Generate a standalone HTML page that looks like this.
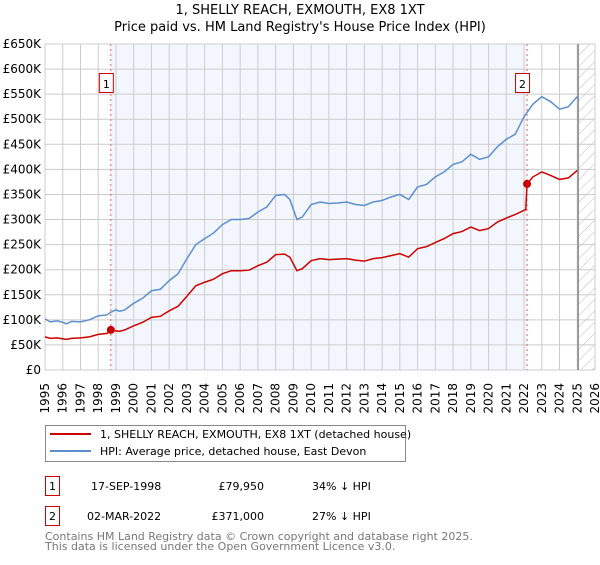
<!DOCTYPE html>
<html><head><meta charset="utf-8"><style>
body{margin:0;background:#fff;font-family:"Liberation Sans","DejaVu Sans",sans-serif}
svg text{font-family:"DejaVu Sans","Liberation Sans",sans-serif}
</style></head><body>
<svg id="chart" width="600" height="560" viewBox="0 0 600 560" xmlns="http://www.w3.org/2000/svg">
<defs><pattern id="hatch" width="8" height="8" patternUnits="userSpaceOnUse" patternTransform="rotate(45)"><line x1="0" y1="0" x2="0" y2="8" stroke="#bbb" stroke-width="1"/></pattern></defs>
<text x="300" y="14" text-anchor="middle" font-size="13">1, SHELLY REACH, EXMOUTH, EX8 1XT</text>
<text x="300" y="31" text-anchor="middle" font-size="13">Price paid vs. HM Land Registry's House Price Index (HPI)</text>
<g id="plot"></g>
<g>
<rect x="45.5" y="425.5" width="360" height="36" fill="#fff" stroke="#888"/>
<line x1="50" y1="434" x2="91" y2="434" stroke="#cc0000" stroke-width="2"/>
<text x="100" y="438" font-size="11">1, SHELLY REACH, EXMOUTH, EX8 1XT (detached house)</text>
<line x1="50" y1="451" x2="91" y2="451" stroke="#5b8fd0" stroke-width="2"/>
<text x="100" y="455" font-size="11">HPI: Average price, detached house, East Devon</text>
</g>
<g font-size="11">
<rect x="45.5" y="476.5" width="14" height="19" fill="#fff" stroke="#c00"/><text x="52.5" y="490" text-anchor="middle">1</text>
<text x="91" y="490">17-SEP-1998</text><text x="264" y="490" text-anchor="end">£79,950</text><text x="312" y="490">34% ↓ HPI</text>
<rect x="45.5" y="506.5" width="14" height="19" fill="#fff" stroke="#c00"/><text x="52.5" y="520" text-anchor="middle">2</text>
<text x="87" y="520">02-MAR-2022</text><text x="264" y="520" text-anchor="end">£371,000</text><text x="312" y="520">27% ↓ HPI</text>
</g>
<text x="45" y="540" font-size="11" fill="#777">Contains HM Land Registry data © Crown copyright and database right 2025.</text>
<text x="45" y="550" font-size="11" fill="#777">This data is licensed under the Open Government Licence v3.0.</text>
</svg>
<script>
const yTicks=[0,50,100,150,200,250,300,350,400,450,500,550,600,650];
const yTickLabels=["£0","£50K","£100K","£150K","£200K","£250K","£300K","£350K","£400K","£450K","£500K","£550K","£600K","£650K"];
const years=[1995,1996,1997,1998,1999,2000,2001,2002,2003,2004,2005,2006,2007,2008,2009,2010,2011,2012,2013,2014,2015,2016,2017,2018,2019,2020,2021,2022,2023,2024,2025,2026];
const hpiT=[1995,1995.3,1995.7,1996,1996.2,1996.5,1997,1997.5,1998,1998.5,1998.7,1999,1999.2,1999.5,2000,2000.5,2001,2001.5,2002,2002.5,2003,2003.5,2004,2004.5,2005,2005.5,2006,2006.5,2007,2007.5,2008,2008.5,2008.8,2009.2,2009.5,2010,2010.5,2011,2011.5,2012,2012.5,2013,2013.5,2014,2014.5,2015,2015.5,2016,2016.5,2017,2017.5,2018,2018.5,2019,2019.5,2020,2020.5,2021,2021.5,2022,2022.5,2023,2023.5,2024,2024.5,2025];
const hpiV=[102,96,98,95,92,97,96,100,108,110,115,120,117,120,133,143,158,161,178,192,222,250,262,273,290,300,300,302,315,325,348,350,340,300,305,330,335,332,333,335,330,328,335,338,345,350,340,365,370,385,395,410,415,430,420,425,445,460,470,505,530,545,535,520,525,545];
const ppT=[1995,1995.3,1995.7,1996,1996.2,1996.5,1997,1997.5,1998,1998.5,1998.71,1999,1999.2,1999.5,2000,2000.5,2001,2001.5,2002,2002.5,2003,2003.5,2004,2004.5,2005,2005.5,2006,2006.5,2007,2007.5,2008,2008.5,2008.8,2009.2,2009.5,2010,2010.5,2011,2011.5,2012,2012.5,2013,2013.5,2014,2014.5,2015,2015.5,2016,2016.5,2017,2017.5,2018,2018.5,2019,2019.5,2020,2020.5,2021,2021.5,2022.1,2022.17,2022.5,2023,2023.5,2024,2024.5,2025];
const ppV=[66,63,64,62,61,63,64,66,71,73,79.95,78,77,80,88,95,105,107,118,127,147,168,175,181,192,198,198,199,208,215,230,231,225,198,202,218,222,220,221,222,219,217,222,224,228,232,225,242,246,254,262,272,276,285,278,282,295,303,310,320,371,385,395,388,380,383,398];
const sales=[{t:1998.71,v:79.95,n:"1"},{t:2022.17,v:371,n:"2"}];
const X=t=>45+(t-1995)*(550/31), Y=v=>370-v*(326/650);
const NS="http://www.w3.org/2000/svg", g=document.getElementById('plot');
function el(tag,a,p){const e=document.createElementNS(NS,tag);for(const k in a)e.setAttribute(k,a[k]);(p||g).appendChild(e);return e;}
let r=el('rect',{x:X(sales[0].t),y:44,width:X(sales[1].t)-X(sales[0].t),height:326,fill:'#eef3fc',opacity:0.7});


r=el('rect',{x:X(2025.05),y:44,width:595-X(2025.05),height:326,fill:'url(#hatch)'});


yTicks.forEach((v,i)=>{
 let l=el('line',{x1:45,x2:595,y1:Y(v),y2:Y(v),stroke:'#ccc'});
 
 
 let t=el('text',{x:41,y:Y(v)+4,'text-anchor':'end','font-size':12});t.textContent=yTickLabels[i];
 
 
});
years.forEach(y=>{
 let l=el('line',{x1:X(y),x2:X(y),y1:44,y2:370,stroke:'#ccc'});
 
 
 let t=el('text',{x:0,y:0,'text-anchor':'end','font-size':12,transform:`translate(${X(y)+4},383) rotate(-90)`});t.textContent=y;
 
 
});
let b=el('rect',{x:45,y:44,width:550,height:326,fill:'none',stroke:'#ccc'});


let v=el('line',{x1:X(2025.05),x2:X(2025.05),y1:44,y2:370,stroke:'#888','stroke-width':1.5});


sales.forEach(s=>{
 let l=el('line',{x1:X(s.t),x2:X(s.t),y1:44,y2:370,stroke:'#f06060','stroke-dasharray':'2,3'});
 
 
});
let p=el('polyline',{points:hpiT.map((t,i)=>X(t)+','+Y(hpiV[i])).join(' '),fill:'none',stroke:'#5b8fd0','stroke-width':1.5});


p=el('polyline',{points:ppT.map((t,i)=>X(t)+','+Y(ppV[i])).join(' '),fill:'none',stroke:'#cc0000','stroke-width':1.5});


sales.forEach(s=>{
 let c=el('circle',{cx:X(s.t),cy:Y(s.v),r:4,fill:'#cc0000'});
 
 
 let bx=el('rect',{x:X(s.t)-11.5,y:73.5,width:14,height:19,fill:'#fff',stroke:'#c00'});
 
 
 let t=el('text',{x:X(s.t)-4.5,y:88,'text-anchor':'middle','font-size':11});t.textContent=s.n;
 
 
});
</script>
</body></html>
